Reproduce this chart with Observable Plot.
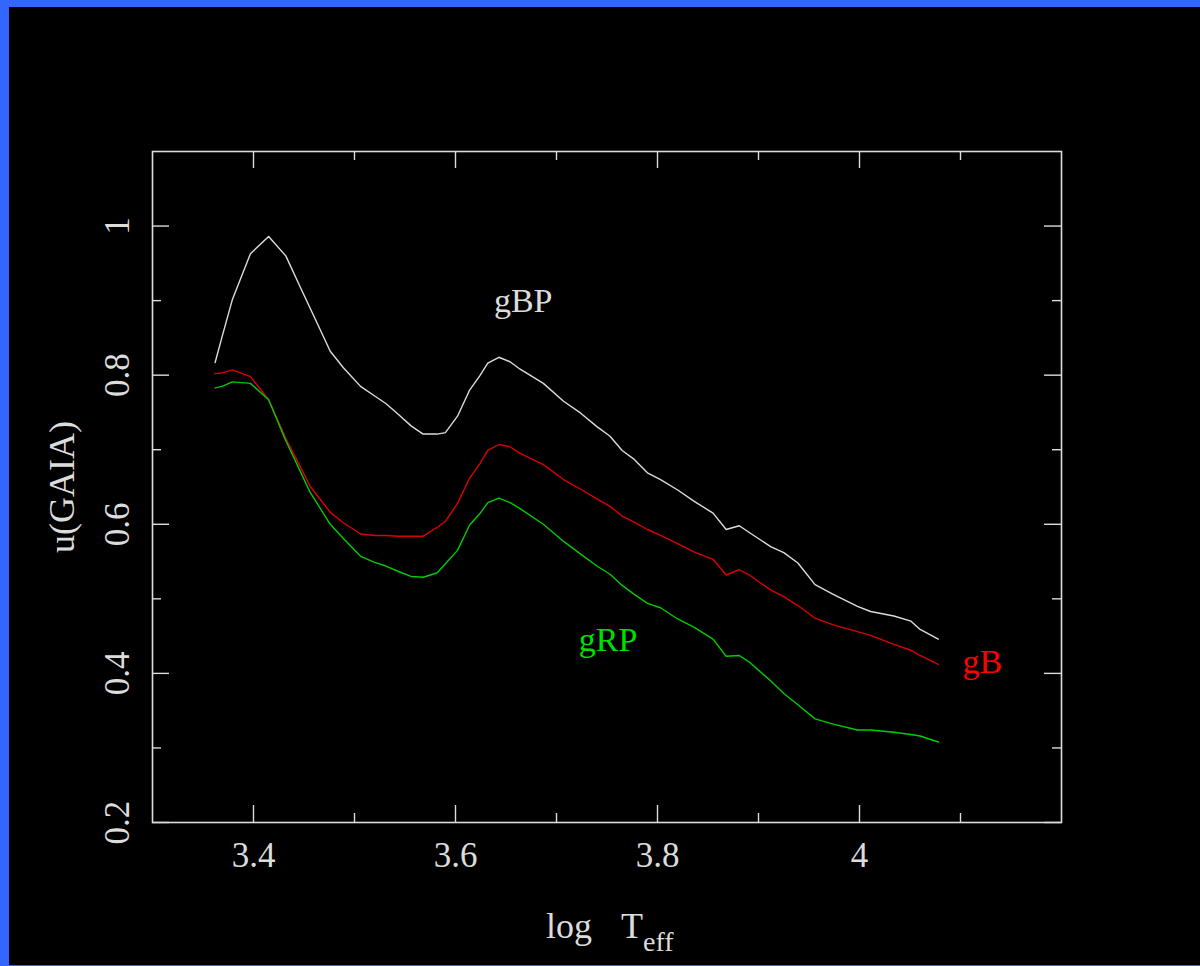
<!DOCTYPE html>
<html>
<head>
<meta charset="utf-8">
<script src="https://cdn.jsdelivr.net/npm/d3@7"></script>
<script src="https://cdn.jsdelivr.net/npm/@observablehq/plot@0.6"></script>
<style>
  html, body { margin: 0; padding: 0; background: #3366ff; width: 1200px; height: 966px; overflow: hidden; }
  #wrap { position: absolute; left: 9px; top: 7px; width: 1191px; height: 958px; background: #000; }
  #wrap svg { display: block; }
</style>
</head>
<body>
<div id="wrap"></div>
<script>
// log Teff (shared abscissa)
const logT = [3.362,3.369,3.379,3.397,3.415,3.432,3.446,3.456,3.476,3.489,3.506,3.520,3.531,3.543,3.556,3.568,3.582,3.590,3.602,3.614,3.624,3.632,3.643,3.654,3.664,3.687,3.707,3.724,3.740,3.753,3.765,3.777,3.790,3.803,3.820,3.836,3.855,3.868,3.881,3.892,3.912,3.925,3.939,3.956,3.974,3.998,4.011,4.034,4.051,4.060,4.078];
// u(GAIA) for each passband
const uBP = [0.817,0.852,0.901,0.963,0.986,0.960,0.919,0.890,0.832,0.810,0.785,0.772,0.762,0.748,0.732,0.721,0.721,0.723,0.745,0.780,0.799,0.816,0.824,0.818,0.808,0.789,0.765,0.749,0.731,0.718,0.699,0.687,0.669,0.660,0.646,0.631,0.615,0.593,0.598,0.588,0.570,0.562,0.548,0.519,0.506,0.490,0.483,0.477,0.470,0.459,0.446];
const uB  = [0.802,0.803,0.807,0.798,0.767,0.715,0.678,0.651,0.616,0.602,0.587,0.585,0.585,0.584,0.584,0.584,0.596,0.604,0.628,0.662,0.681,0.699,0.707,0.704,0.695,0.680,0.660,0.647,0.634,0.624,0.611,0.603,0.593,0.585,0.574,0.563,0.553,0.532,0.539,0.531,0.512,0.503,0.491,0.474,0.465,0.456,0.451,0.439,0.431,0.424,0.412];
const uRP = [0.783,0.785,0.791,0.789,0.767,0.712,0.672,0.643,0.600,0.581,0.557,0.549,0.544,0.537,0.530,0.529,0.535,0.547,0.565,0.599,0.614,0.629,0.635,0.629,0.621,0.600,0.577,0.560,0.544,0.533,0.518,0.506,0.494,0.488,0.473,0.462,0.446,0.423,0.424,0.414,0.390,0.373,0.358,0.339,0.332,0.324,0.324,0.321,0.318,0.316,0.308];

// curve labels (anchored in data units)
const labelText = ["gBP", "gRP", "gB"];
const labelX = [3.638, 3.722, 4.102];
const labelY = [0.885, 0.430, 0.400];

// axes
const xMajor = [3.4, 3.6, 3.8, 4.0];
const xMinor = [3.5, 3.7, 3.9, 4.1];
const yMajor = [0.2, 0.4, 0.6, 0.8, 1.0];
const yMinor = [0.3, 0.5, 0.7, 0.9];
const xTickLabels = ["3.4", "3.6", "3.8", "4"];
const yTickLabels = ["0.2", "0.4", "0.6", "0.8", "1"];

const WHITE = "#dcdcdc", RED = "#dd0000", GREEN = "#00cc00";
const FONT = "'Liberation Serif', 'DejaVu Serif', serif";

const W = 1191, H = 958;
const mL = 143, mR = 139, mT = 144, mB = 143;
const pw = W - mL - mR, ph = H - mT - mB;
const MAJ = 17, MIN = 9;

const series = [
  {name: "gBP", values: uBP, color: WHITE},
  {name: "gB", values: uB, color: RED},
  {name: "gRP", values: uRP, color: GREEN}
];
const rows = series.flatMap(s => logT.map((x, i) => ({x, y: s.values[i], name: s.name})));
const labels = labelText.map((t, i) => ({t, x: labelX[i], y: labelY[i]}));
const labelColors = {gBP: WHITE, gRP: "#00e000", gB: "#ff0000"};

const tickStyle = {stroke: WHITE, strokeWidth: 1.4};

const chart = Plot.plot({
  width: W, height: H,
  marginLeft: mL, marginRight: mR, marginTop: mT, marginBottom: mB,
  style: {background: "black", color: WHITE, fontFamily: FONT},
  x: {domain: [3.3, 4.2], axis: null},
  y: {domain: [0.2, 1.1], axis: null},
  marks: [
    // curves
    ...series.map(s => Plot.line(rows.filter(r => r.name === s.name), {x: "x", y: "y", stroke: s.color, strokeWidth: 1.4})),
    // ticks: bottom / top
    Plot.ruleX(xMajor, {...tickStyle, insetTop: ph - MAJ}),
    Plot.ruleX(xMajor, {...tickStyle, insetBottom: ph - MAJ}),
    Plot.ruleX(xMinor, {...tickStyle, insetTop: ph - MIN}),
    Plot.ruleX(xMinor, {...tickStyle, insetBottom: ph - MIN}),
    // ticks: left / right
    Plot.ruleY(yMajor, {...tickStyle, insetRight: pw - MAJ}),
    Plot.ruleY(yMajor, {...tickStyle, insetLeft: pw - MAJ}),
    Plot.ruleY(yMinor, {...tickStyle, insetRight: pw - MIN}),
    Plot.ruleY(yMinor, {...tickStyle, insetLeft: pw - MIN}),
    Plot.frame({stroke: WHITE, strokeWidth: 1.6}),
    // tick labels
    Plot.text(xMajor, {x: d => d, text: (d, i) => xTickLabels[i], frameAnchor: "bottom", dy: 20, lineAnchor: "top",
      fill: WHITE, fontSize: 35, letterSpacing: 2}),
    Plot.text(yMajor, {y: d => d, text: (d, i) => yTickLabels[i], frameAnchor: "left", dx: -24, rotate: -90,
      lineAnchor: "bottom", textAnchor: "middle", fill: WHITE, fontSize: 35, letterSpacing: 2}),
    // axis titles
    Plot.text(["u(GAIA)"], {text: d => d, frameAnchor: "left", dx: -79, dy: 0, rotate: -90,
      lineAnchor: "bottom", textAnchor: "middle", fill: WHITE, fontSize: 36}),
    Plot.text(["log"], {text: d => d, frameAnchor: "bottom", dx: -61, dy: 115, textAnchor: "start",
      lineAnchor: "bottom", fill: WHITE, fontSize: 36}),
    Plot.text(["T"], {text: d => d, frameAnchor: "bottom", dx: 14, dy: 115, textAnchor: "start",
      lineAnchor: "bottom", fill: WHITE, fontSize: 36}),
    Plot.text(["eff"], {text: d => d, frameAnchor: "bottom", dx: 36, dy: 128, textAnchor: "start",
      lineAnchor: "bottom", fill: WHITE, fontSize: 28}),
    // curve labels
    Plot.text(labels, {x: "x", y: "y", text: "t", fill: d => labelColors[d.t], textAnchor: "start",
      lineAnchor: "bottom", fontSize: 34, letterSpacing: 1})
  ]
});
document.getElementById("wrap").appendChild(chart);
</script>
</body>
</html>
